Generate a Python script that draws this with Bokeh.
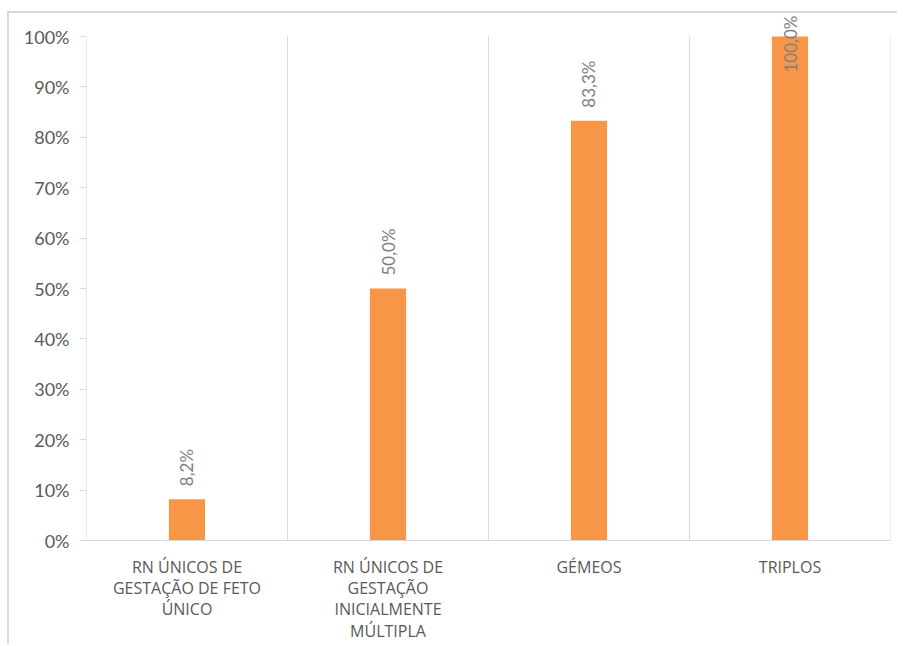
from bokeh.plotting import figure
from bokeh.embed import file_html
from bokeh.resources import INLINE
from bokeh.models import ColumnDataSource, NumeralTickFormatter, FixedTicker, Range1d, LabelSet
from bokeh.core.properties import value

import math

categories = [
    "RN ÚNICOS DE\nGESTAÇÃO DE FETO\nÚNICO",
    "RN ÚNICOS DE\nGESTAÇÃO\nINICIALMENTE\nMÚLTIPLA",
    "GÉMEOS",
    "TRIPLOS",
]
values = [0.082, 0.500, 0.833, 1.000]
labels = ["8,2%", "50,0%", "83,3%", "100,0%"]
y_ticks = [0.0, 0.1, 0.2, 0.3, 0.4, 0.5, 0.6, 0.7, 0.8, 0.9, 1.0]

FONT = "Lato"
AXIS_COL = "#595959"
GRID_COL = "#d9d9d9"

# plot area 0..100% occupies 504 px; the frame is 527 px tall so labels can rise above 100%
FRAME_H = 527
PLOT_H = 504
y_end = y_ticks[-1] * FRAME_H / PLOT_H

# label offsets: outside end, pushed inside when it would overflow the chart area
offsets = [13 if v < 0.95 else -36 for v in values]

src = ColumnDataSource(dict(cat=categories, val=values, lab=labels, off=offsets))

p = figure(
    x_range=categories,
    y_range=Range1d(0, y_end),
    width=890, height=633,
    min_border_left=77, min_border_right=9, min_border_top=0, min_border_bottom=106,
    output_backend="svg", toolbar_location=None,
)
p.styles = {"margin-left": "7px", "margin-top": "11px",
            "border-top": "2px solid #d9d9d9", "border-left": "2px solid #d9d9d9"}
p.outline_line_color = None
p.background_fill_color = "white"
p.border_fill_color = "white"

# category separators and value axis line (from 0% to 100%)
sep_x = [0, 1, 2, 3, 4]
p.segment(x0=sep_x, y0=[0] * 5, x1=sep_x, y1=[y_ticks[-1]] * 5, line_color=GRID_COL, line_width=1)

p.vbar(x="cat", top="val", width=0.18, source=src, color="#f79646", line_color=None)

p.add_layout(LabelSet(x="cat", y="val", text="lab", source=src, angle=math.pi / 2,
                      y_offset="off", text_align="left", text_baseline="middle",
                      text_font=value(FONT), text_font_size="17px", text_color="#808080"))

p.xgrid.grid_line_color = None
p.ygrid.grid_line_color = None

p.yaxis.ticker = FixedTicker(ticks=y_ticks)
p.yaxis.formatter = NumeralTickFormatter(format="0%")
p.yaxis.axis_line_color = None
p.yaxis.major_tick_line_color = GRID_COL
p.yaxis.major_tick_out = 7
p.yaxis.major_tick_in = 0
p.yaxis.minor_tick_line_color = None
p.yaxis.major_label_text_font = FONT
p.yaxis.major_label_text_font_size = "18px"
p.yaxis.major_label_text_color = AXIS_COL
p.yaxis.major_label_standoff = 10

p.xaxis.axis_line_color = GRID_COL
p.xaxis.major_tick_line_color = None
p.xaxis.minor_tick_line_color = None
p.xaxis.major_label_text_font = "Open Sans"
p.xaxis.major_label_text_font_size = "16px"
p.xaxis.major_label_text_color = AXIS_COL
p.xaxis.major_label_text_line_height = 0.97
p.xaxis.major_label_standoff = 9

p.x_range.range_padding = 0
p.x_range.factor_padding = 0

open("out.html", "w").write(file_html(p, INLINE))
